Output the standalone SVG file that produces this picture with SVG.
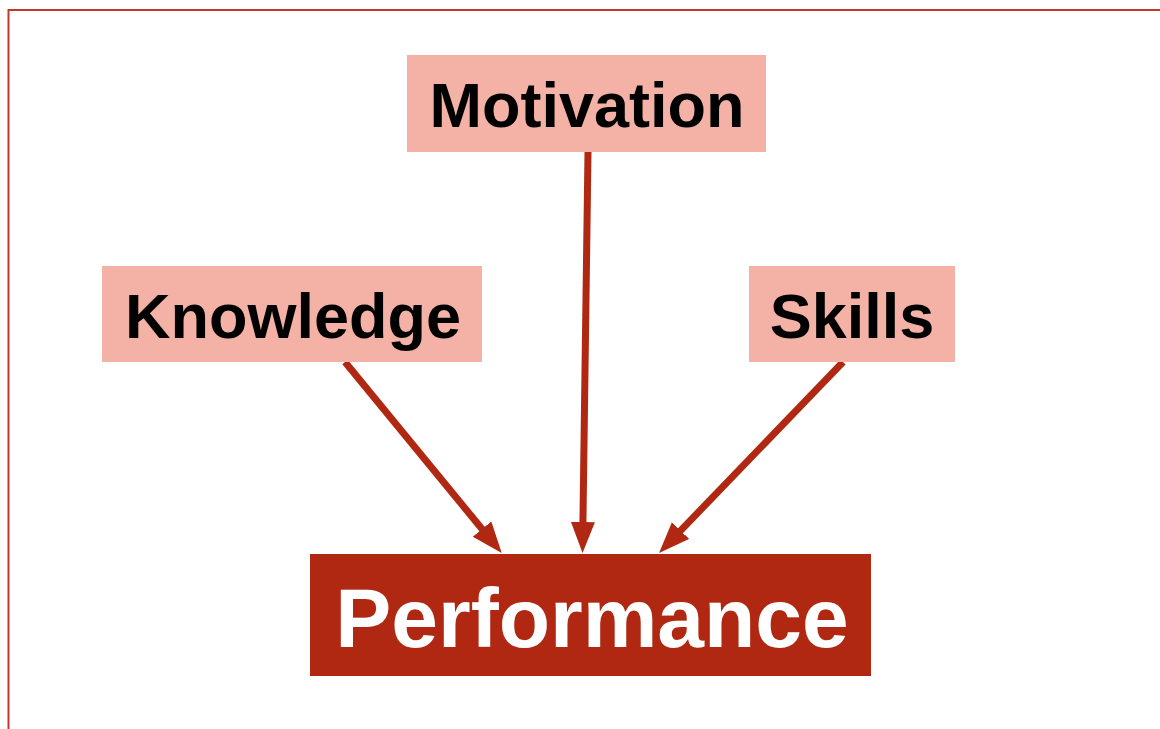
<svg xmlns="http://www.w3.org/2000/svg" width="1160" height="729" viewBox="0 0 1160 729">
  <defs>
    <style>
      .frame { fill: none; stroke: #C0392B; stroke-width: 2; }
      .factor { fill: #F4B1A6; }
      .factor-label { font-family: "Liberation Sans", Arial, sans-serif; font-weight: bold; font-size: 63px; fill: #000000; text-anchor: middle; }
      .result { fill: #B02812; }
      .result-label { font-family: "Liberation Sans", Arial, sans-serif; font-weight: bold; font-size: 84px; fill: #FFFFFF; text-anchor: middle; }
      .link { stroke: #B02812; stroke-width: 7; fill: none; marker-end: url(#head); }
    </style>
    <marker id="head" markerUnits="userSpaceOnUse" markerWidth="32" markerHeight="26" refX="10" refY="12" orient="auto" viewBox="0 0 32 26">
      <path d="M0,0 L31,12 L0,24 Z" fill="#B02812"/>
    </marker>
  </defs>

  <rect class="frame" x="8.5" y="10" width="1200" height="800"/>

  <g id="connectors">
    <line class="link" x1="345" y1="362" x2="488.4" y2="536.8"/>
    <line class="link" x1="588" y1="152" x2="582.8" y2="532"/>
    <line class="link" x1="843" y1="362" x2="673.6" y2="537.9"/>
  </g>

  <g id="motivation">
    <rect class="factor" x="407" y="55" width="359" height="97"/>
    <text class="factor-label" x="587" y="127">Motivation</text>
  </g>

  <g id="knowledge">
    <rect class="factor" x="102" y="266" width="380" height="96"/>
    <text class="factor-label" x="293" y="338">Knowledge</text>
  </g>

  <g id="skills">
    <rect class="factor" x="749" y="266" width="206" height="96"/>
    <text class="factor-label" x="852" y="338">Skills</text>
  </g>

  <g id="performance">
    <rect class="result" x="310" y="554" width="561" height="122"/>
    <text class="result-label" x="592" y="647">Performance</text>
  </g>
</svg>
